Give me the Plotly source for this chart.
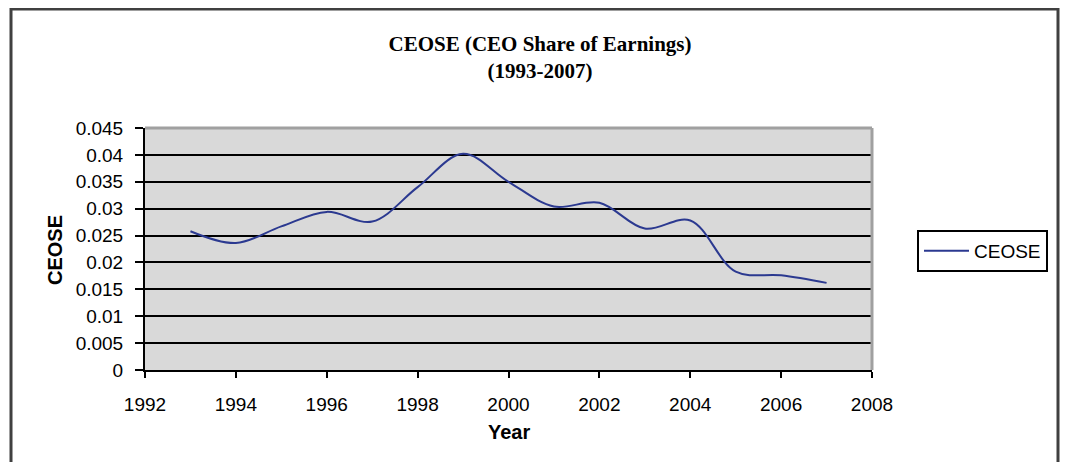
import plotly.graph_objects as go

# Data
years = [1993, 1994, 1995, 1996, 1997, 1998, 1999, 2000, 2001, 2002, 2003, 2004, 2005, 2006, 2007]
ceose = [0.0258, 0.0236, 0.0267, 0.0294, 0.0276, 0.0340, 0.0402, 0.0350, 0.0304, 0.0311, 0.0263, 0.0278, 0.0183, 0.0176, 0.0162]

y_tickvals = [0, 0.005, 0.01, 0.015, 0.02, 0.025, 0.03, 0.035, 0.04, 0.045]
y_ticktext = ["0", "0.005", "0.01", "0.015", "0.02", "0.025", "0.03", "0.035", "0.04", "0.045"]
x_tickvals = [1992, 1994, 1996, 1998, 2000, 2002, 2004, 2006, 2008]

OFF = 8  # browser default body margin
W, H = 1068 - 2 * OFF, 470 - 2 * OFF
# target pixel positions in the screenshot
PL, PR, PT, PB = 145, 872, 128, 370
L, T = PL - OFF, PT - OFF
R = W - (PR - OFF)
B = H - (PB - OFF)
pw, ph = PR - PL, PB - PT

def px_x(x):
    return (x - PL) / pw

def px_y(y):
    return (PB - y) / ph

SANS = "Liberation Sans, Arial, sans-serif"
SERIF = "Liberation Serif, Times New Roman, serif"

fig = go.Figure()
fig.add_trace(go.Scatter(
    x=years, y=ceose, mode="lines", name="CEOSE",
    line=dict(color="#2b3990", width=2, shape="spline", smoothing=1),
))

fig.update_layout(
    width=W, height=H,
    margin=dict(l=L, r=R, t=T, b=B, autoexpand=False),
    paper_bgcolor="white",
    plot_bgcolor="#d9d9d9",
    title=dict(
        text="<b>CEOSE (CEO Share of Earnings)<br>(1993-2007)</b>",
        font=dict(family=SERIF, size=21, color="black"),
        xref="paper", x=px_x(540), xanchor="center",
        yref="container", y=1 - (51 - OFF) / H, yanchor="middle",
    ),
    xaxis=dict(
        range=[1992, 2008], tickvals=x_tickvals,
        showgrid=False, zeroline=False,
        showline=True, linecolor="black", linewidth=2,
        ticks="outside", ticklen=6, tickwidth=2, tickcolor="black",
        tickfont=dict(family=SANS, size=19, color="black"),
        ticklabelstandoff=10,
    ),
    yaxis=dict(
        range=[0, 0.045], tickvals=y_tickvals, ticktext=y_ticktext,
        showgrid=True, gridcolor="black", gridwidth=2, zeroline=False,
        showline=True, linecolor="black", linewidth=2,
        ticks="outside", ticklen=8, tickwidth=2, tickcolor="black",
        tickfont=dict(family=SANS, size=19, color="black"),
        ticklabelstandoff=8,
    ),
    showlegend=True,
    legend=dict(
        x=px_x(917), y=px_y(230), xanchor="left", yanchor="top",
        bgcolor="white", bordercolor="black", borderwidth=2,
        font=dict(family=SANS, size=19, color="black"),
        itemwidth=45,
    ),
    annotations=[
        dict(text="<b>CEOSE</b>", xref="paper", yref="paper",
             x=px_x(55), y=px_y(250), textangle=-90, showarrow=False,
             xanchor="center", yanchor="middle",
             font=dict(family=SANS, size=20, color="black")),
        dict(text="<b>Year</b>", xref="paper", yref="paper",
             x=px_x(509), y=px_y(432), showarrow=False,
             xanchor="center", yanchor="middle",
             font=dict(family=SANS, size=20, color="black")),
    ],
    shapes=[
        # plot area top and right borders (gray)
        dict(type="line", xref="paper", yref="paper", x0=0, x1=1, y0=1, y1=1,
             line=dict(color="#a0a0a0", width=3)),
        dict(type="line", xref="paper", yref="paper", x0=1, x1=1, y0=0, y1=1,
             line=dict(color="#a0a0a0", width=3)),
        # outer chart frame
        dict(type="rect", xref="paper", yref="paper",
             x0=px_x(11), x1=px_x(1058), y0=px_y(485), y1=px_y(9),
             line=dict(color="#404040", width=3)),
    ],
)

fig.write_html("out.html")
